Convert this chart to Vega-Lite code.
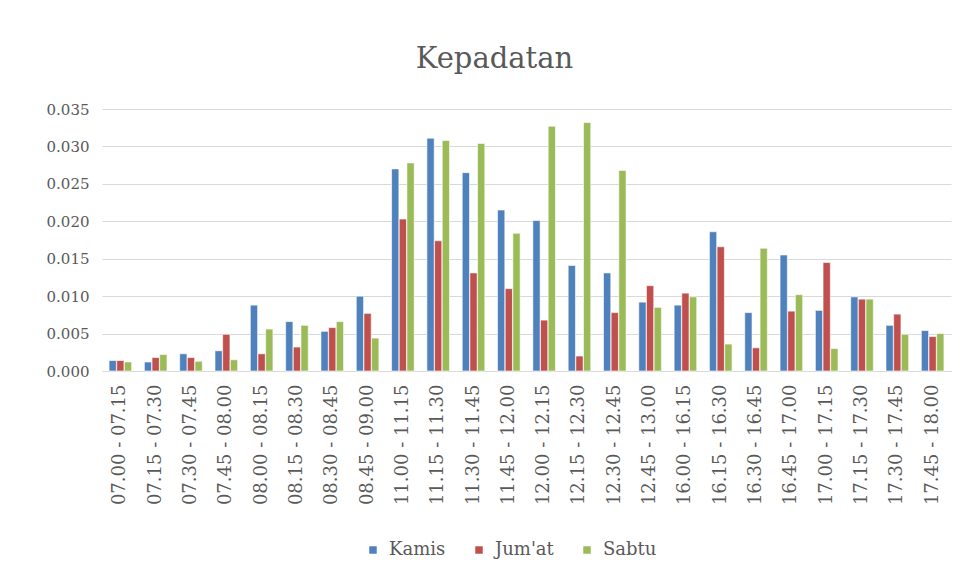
{
  "$schema": "https://vega.github.io/schema/vega-lite/v6.json",
  "width": 849,
  "height": 262,
  "autosize": {"type": "none"},
  "padding": {"left": 102, "top": 109, "right": 14, "bottom": 212},
  "background": "white",
  "title": {
    "text": "Kepadatan",
    "font": "DejaVu Serif",
    "fontSize": 29,
    "fontWeight": "normal",
    "color": "#595959",
    "anchor": "middle",
    "dx": -32,
    "offset": 28
  },
  "data": {
    "values": [
      {"t": "07.00 - 07.15", "s": "Kamis", "v": 0.0014}, {"t": "07.00 - 07.15", "s": "Jum'at", "v": 0.0014}, {"t": "07.00 - 07.15", "s": "Sabtu", "v": 0.0012},
      {"t": "07.15 - 07.30", "s": "Kamis", "v": 0.0012}, {"t": "07.15 - 07.30", "s": "Jum'at", "v": 0.0018}, {"t": "07.15 - 07.30", "s": "Sabtu", "v": 0.0022},
      {"t": "07.30 - 07.45", "s": "Kamis", "v": 0.0023}, {"t": "07.30 - 07.45", "s": "Jum'at", "v": 0.0018}, {"t": "07.30 - 07.45", "s": "Sabtu", "v": 0.0013},
      {"t": "07.45 - 08.00", "s": "Kamis", "v": 0.0027}, {"t": "07.45 - 08.00", "s": "Jum'at", "v": 0.0049}, {"t": "07.45 - 08.00", "s": "Sabtu", "v": 0.0015},
      {"t": "08.00 - 08.15", "s": "Kamis", "v": 0.0088}, {"t": "08.00 - 08.15", "s": "Jum'at", "v": 0.0023}, {"t": "08.00 - 08.15", "s": "Sabtu", "v": 0.0056},
      {"t": "08.15 - 08.30", "s": "Kamis", "v": 0.0066}, {"t": "08.15 - 08.30", "s": "Jum'at", "v": 0.0032}, {"t": "08.15 - 08.30", "s": "Sabtu", "v": 0.0061},
      {"t": "08.30 - 08.45", "s": "Kamis", "v": 0.0053}, {"t": "08.30 - 08.45", "s": "Jum'at", "v": 0.0058}, {"t": "08.30 - 08.45", "s": "Sabtu", "v": 0.0066},
      {"t": "08.45 - 09.00", "s": "Kamis", "v": 0.0100}, {"t": "08.45 - 09.00", "s": "Jum'at", "v": 0.0077}, {"t": "08.45 - 09.00", "s": "Sabtu", "v": 0.0044},
      {"t": "11.00 - 11.15", "s": "Kamis", "v": 0.0270}, {"t": "11.00 - 11.15", "s": "Jum'at", "v": 0.0203}, {"t": "11.00 - 11.15", "s": "Sabtu", "v": 0.0278},
      {"t": "11.15 - 11.30", "s": "Kamis", "v": 0.0311}, {"t": "11.15 - 11.30", "s": "Jum'at", "v": 0.0174}, {"t": "11.15 - 11.30", "s": "Sabtu", "v": 0.0308},
      {"t": "11.30 - 11.45", "s": "Kamis", "v": 0.0265}, {"t": "11.30 - 11.45", "s": "Jum'at", "v": 0.0131}, {"t": "11.30 - 11.45", "s": "Sabtu", "v": 0.0304},
      {"t": "11.45 - 12.00", "s": "Kamis", "v": 0.0215}, {"t": "11.45 - 12.00", "s": "Jum'at", "v": 0.0110}, {"t": "11.45 - 12.00", "s": "Sabtu", "v": 0.0184},
      {"t": "12.00 - 12.15", "s": "Kamis", "v": 0.0201}, {"t": "12.00 - 12.15", "s": "Jum'at", "v": 0.0068}, {"t": "12.00 - 12.15", "s": "Sabtu", "v": 0.0327},
      {"t": "12.15 - 12.30", "s": "Kamis", "v": 0.0141}, {"t": "12.15 - 12.30", "s": "Jum'at", "v": 0.0020}, {"t": "12.15 - 12.30", "s": "Sabtu", "v": 0.0332},
      {"t": "12.30 - 12.45", "s": "Kamis", "v": 0.0131}, {"t": "12.30 - 12.45", "s": "Jum'at", "v": 0.0078}, {"t": "12.30 - 12.45", "s": "Sabtu", "v": 0.0268},
      {"t": "12.45 - 13.00", "s": "Kamis", "v": 0.0092}, {"t": "12.45 - 13.00", "s": "Jum'at", "v": 0.0114}, {"t": "12.45 - 13.00", "s": "Sabtu", "v": 0.0085},
      {"t": "16.00 - 16.15", "s": "Kamis", "v": 0.0088}, {"t": "16.00 - 16.15", "s": "Jum'at", "v": 0.0104}, {"t": "16.00 - 16.15", "s": "Sabtu", "v": 0.0099},
      {"t": "16.15 - 16.30", "s": "Kamis", "v": 0.0186}, {"t": "16.15 - 16.30", "s": "Jum'at", "v": 0.0166}, {"t": "16.15 - 16.30", "s": "Sabtu", "v": 0.0036},
      {"t": "16.30 - 16.45", "s": "Kamis", "v": 0.0078}, {"t": "16.30 - 16.45", "s": "Jum'at", "v": 0.0031}, {"t": "16.30 - 16.45", "s": "Sabtu", "v": 0.0164},
      {"t": "16.45 - 17.00", "s": "Kamis", "v": 0.0155}, {"t": "16.45 - 17.00", "s": "Jum'at", "v": 0.0080}, {"t": "16.45 - 17.00", "s": "Sabtu", "v": 0.0102},
      {"t": "17.00 - 17.15", "s": "Kamis", "v": 0.0081}, {"t": "17.00 - 17.15", "s": "Jum'at", "v": 0.0145}, {"t": "17.00 - 17.15", "s": "Sabtu", "v": 0.0030},
      {"t": "17.15 - 17.30", "s": "Kamis", "v": 0.0099}, {"t": "17.15 - 17.30", "s": "Jum'at", "v": 0.0096}, {"t": "17.15 - 17.30", "s": "Sabtu", "v": 0.0096},
      {"t": "17.30 - 17.45", "s": "Kamis", "v": 0.0061}, {"t": "17.30 - 17.45", "s": "Jum'at", "v": 0.0076}, {"t": "17.30 - 17.45", "s": "Sabtu", "v": 0.0049},
      {"t": "17.45 - 18.00", "s": "Kamis", "v": 0.0054}, {"t": "17.45 - 18.00", "s": "Jum'at", "v": 0.0046}, {"t": "17.45 - 18.00", "s": "Sabtu", "v": 0.0050}
    ]
  },
  "mark": {"type": "bar", "stroke": "white", "strokeWidth": 0.6},
  "encoding": {
    "x": {
      "field": "t",
      "type": "nominal",
      "sort": null,
      "title": null,
      "scale": {"paddingInner": 0.36, "paddingOuter": 0.2},
      "axis": {
        "labelAngle": -90,
        "labelFont": "DejaVu Serif",
        "labelFontSize": 18,
        "labelColor": "#595959",
        "labelPadding": 13,
        "ticks": false,
        "domainColor": "#d9d9d9",
        "domainWidth": 1.2,
        "grid": false
      }
    },
    "xOffset": {
      "field": "s",
      "type": "nominal",
      "sort": ["Kamis", "Jum'at", "Sabtu"],
      "scale": {"paddingInner": 0.05}
    },
    "y": {
      "field": "v",
      "type": "quantitative",
      "title": null,
      "scale": {"domain": [0, 0.035], "nice": false},
      "axis": {
        "values": [0, 0.005, 0.01, 0.015, 0.02, 0.025, 0.03, 0.035],
        "format": ".3f",
        "labelFont": "DejaVu Serif",
        "labelFontSize": 15,
        "labelColor": "#595959",
        "labelPadding": 13,
        "ticks": false,
        "domain": false,
        "gridColor": "#d9d9d9",
        "gridWidth": 1.2
      }
    },
    "color": {
      "field": "s",
      "type": "nominal",
      "sort": ["Kamis", "Jum'at", "Sabtu"],
      "scale": {"domain": ["Kamis", "Jum'at", "Sabtu"], "range": ["#4F81BD", "#C0504D", "#9BBB59"]},
      "legend": {
        "title": null,
        "orient": "none",
        "direction": "horizontal",
        "legendX": 262,
        "legendY": 432,
        "symbolType": "square",
        "symbolSize": 56,
        "symbolStrokeWidth": 0,
        "labelFont": "DejaVu Serif",
        "labelFontSize": 18,
        "labelColor": "#595959",
        "labelOffset": 7,
        "columnPadding": 24
      }
    }
  },
  "config": {"view": {"stroke": null}}
}
